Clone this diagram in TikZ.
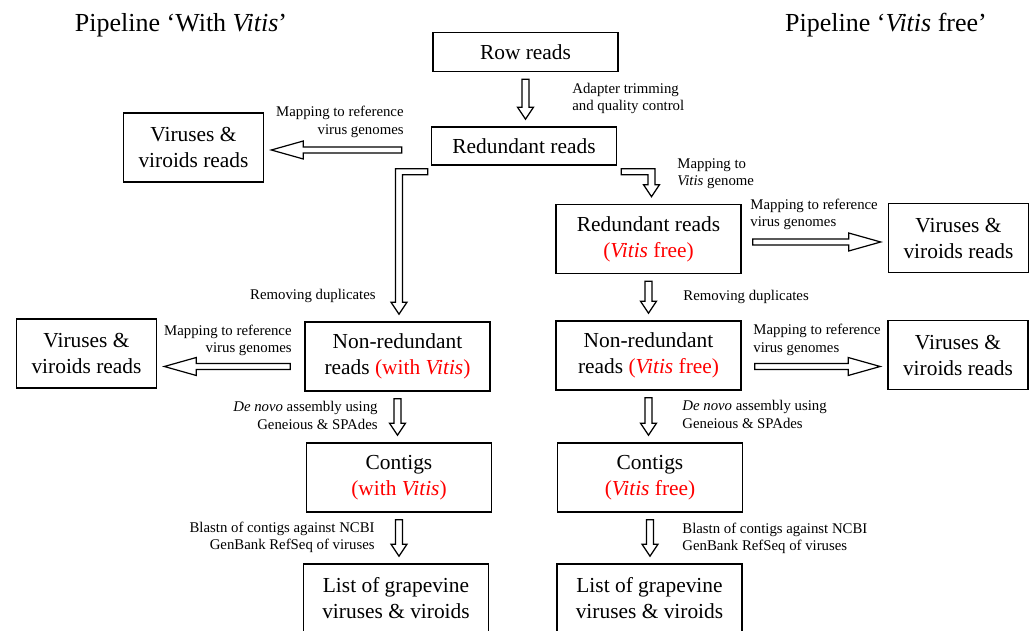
\documentclass[tikz,border=0pt]{standalone}
\usepackage{fontspec}
\setmainfont{Liberation Serif}
\usetikzlibrary{calc}

\definecolor{vitisred}{RGB}{255,0,0}
\newcommand{\vit}{\textit{Vitis}}
\newcommand{\vfree}{\textcolor{vitisred}{(\vit{} free)}}
\newcommand{\vwith}{\textcolor{vitisred}{(with \vit)}}

\tikzset{
  title/.style={font=\fontsize{13}{15}\selectfont, inner sep=0pt},
  box/.style={draw, line width=0.8pt, align=center, inner sep=0pt,
    minimum width=92.5pt, minimum height=34.5pt,
    font=\fontsize{10.7}{13}\selectfont},
  vbox/.style={box, minimum width=70pt},
  note/.style={font=\fontsize{7.4}{8.7}\selectfont, inner sep=0pt},
  hollow/.style={draw, line width=0.6pt, fill=white, line join=miter},
  % flecha hacia abajo
  todown/.style={hollow, to path={
    let \p1=(\tikztostart.south), \p2=(\tikztotarget.north) in
    (\x1-1.75pt,\y1-3.5pt) -- (\x1-1.75pt,\y2+9.5pt) -- (\x1-4pt,\y2+9.5pt)
    -- (\x1,\y2+3.5pt) -- (\x1+4pt,\y2+9.5pt) -- (\x1+1.75pt,\y2+9.5pt)
    -- (\x1+1.75pt,\y1-3.5pt) -- cycle}},
  % flecha hacia la izquierda
  toleft/.style 2 args={hollow, to path={
    let \p1=(\tikztostart.west), \p2=(\tikztotarget.east) in
    (\x1-#1,\y1-#2+1.5pt) -- (\x2+19.5pt,\y1-#2+1.5pt) -- (\x2+19.5pt,\y1-#2+4.5pt)
    -- (\x2+3.5pt,\y1-#2) -- (\x2+19.5pt,\y1-#2-4.5pt) -- (\x2+19.5pt,\y1-#2-1.5pt)
    -- (\x1-#1,\y1-#2-1.5pt) -- cycle}},
  % flecha hacia la derecha
  toright/.style 2 args={hollow, to path={
    let \p1=(\tikztostart.east), \p2=(\tikztotarget.west) in
    (\x1+#1,\y1-#2+1.5pt) -- (\x2-19.5pt,\y1-#2+1.5pt) -- (\x2-19.5pt,\y1-#2+4.5pt)
    -- (\x2-3.5pt,\y1-#2) -- (\x2-19.5pt,\y1-#2-4.5pt) -- (\x2-19.5pt,\y1-#2-1.5pt)
    -- (\x1+#1,\y1-#2-1.5pt) -- cycle}},
  % flechas en codo
  bentleft/.style={hollow, to path={
    let \p1=(\tikztostart.south west), \p2=(\tikztotarget.north) in
    (\x1-1.5pt,\y1-1.5pt) -- (\x2+0.75pt-1.75pt,\y1-1.5pt) -- (\x2+0.75pt-1.75pt,\y2+9.5pt)
    -- (\x2+0.75pt-4pt,\y2+9.5pt) -- (\x2+0.75pt,\y2+3.5pt) -- (\x2+0.75pt+4pt,\y2+9.5pt)
    -- (\x2+0.75pt+1.75pt,\y2+9.5pt) -- (\x2+0.75pt+1.75pt,\y1-4.5pt)
    -- (\x1-1.5pt,\y1-4.5pt) -- cycle}},
  bentright/.style={hollow, to path={
    let \p1=(\tikztostart.south east), \p2=(\tikztotarget.north) in
    (\x1+2pt,\y1-1.5pt) -- (\x2+1.5pt+1.75pt,\y1-1.5pt) -- (\x2+1.5pt+1.75pt,\y2+9.5pt)
    -- (\x2+1.5pt+4pt,\y2+9.5pt) -- (\x2+1.5pt,\y2+3.5pt) -- (\x2+1.5pt-4pt,\y2+9.5pt)
    -- (\x2+1.5pt-1.75pt,\y2+9.5pt) -- (\x2+1.5pt-1.75pt,\y1-4.5pt)
    -- (\x1+2pt,\y1-4.5pt) -- cycle}},
}

\begin{document}
\begin{tikzpicture}[x=0.5pt, y=-0.5pt]
    \useasboundingbox (0,0) rectangle (1035,636);
    \clip (0,0) rectangle (1035,631);

    % Titulos
    \node[title] (tleft) at (181,25) {Pipeline `With \vit'};
    \node[title] (tright) at (886,25) {Pipeline `\vit{} free'};

    % Cajas comunes
    \node[box, minimum height=19.5pt] (row) at (525.5,52) {Row reads};
    \node[box, minimum height=19pt] (red) at (524,146) {Redundant reads};

    % Pipeline con Vitis
    \node[vbox] (vir1) at (193.5,147.5) {Viruses \&\\viroids reads};
    \node[box] (nrw) at (397.5,356.5) {Non-redundant\\reads \vwith};
    \node[vbox] (vir3) at (86.5,353.5) {Viruses \&\\viroids reads};
    \node[box] (ctw) at (399,477.5) {Contigs\\\vwith};
    \node[box] (lsw) at (396,598.5) {List of grapevine\\viruses \& viroids};

    % Pipeline sin Vitis
    \node[box] (redf) at (648.5,239) {Redundant reads\\\vfree};
    \node[vbox] (vir2) at (958.5,238) {Viruses \&\\viroids reads};
    \node[box] (nrf) at (648.5,355.5) {Non-redundant\\reads \vfree};
    \node[vbox] (vir4) at (958,355) {Viruses \&\\viroids reads};
    \node[box] (ctf) at (650,477.5) {Contigs\\\vfree};
    \node[box] (lsf) at (649.5,598.5) {List of grapevine\\viruses \& viroids};

    % Flechas
    \draw[todown] (row) to (red);
    \draw[bentright] (red) to (redf);
    \draw[bentleft] (red) to (nrw);
    \draw[toleft={14.5pt}{2pt}] (red) to (vir1);
    \draw[toright={5.5pt}{1.5pt}] (redf) to (vir2);
    \draw[todown] (redf) to (nrf);
    \draw[toleft={7pt}{5pt}] (nrw) to (vir3);
    \draw[toright={6.5pt}{5.5pt}] (nrf) to (vir4);
    \draw[todown] (nrw) to (ctw);
    \draw[todown] (nrf) to (ctf);
    \draw[todown] (ctw) to (lsw);
    \draw[todown] (ctf) to (lsf);

    % Etiquetas de las flechas
    \node[note, anchor=west, align=left] (l1) at (572,98.5) {Adapter trimming\\and quality control};
    \node[note, anchor=east, align=right] (l2) at (404,122) {Mapping to reference\\virus genomes};
    \node[note, anchor=west, align=left] (l3) at (677,174) {Mapping to\\\vit{} genome};
    \node[note, anchor=west, align=left] (l4) at (750,214.5) {Mapping to reference\\virus genomes};
    \node[note, anchor=east] (l5) at (376,296) {Removing duplicates};
    \node[note, anchor=west] (l6) at (683,297) {Removing duplicates};
    \node[note, anchor=east, align=right] (l7) at (292,340.5) {Mapping to reference\\virus genomes};
    \node[note, anchor=west, align=left] (l8) at (753,340) {Mapping to reference\\virus genomes};
    \node[note, anchor=east, align=right] (l9) at (378,415.5) {\textit{De novo} assembly using\\Geneious \& SPAdes};
    \node[note, anchor=west, align=left] (l10) at (682,414.5) {\textit{De novo} assembly using\\Geneious \& SPAdes};
    \node[note, anchor=east, align=right] (l11) at (375,537.5) {Blastn of contigs against NCBI\\GenBank RefSeq of viruses};
    \node[note, anchor=west, align=left] (l12) at (682,538.5) {Blastn of contigs against NCBI\\GenBank RefSeq of viruses};
\end{tikzpicture}
\end{document}
